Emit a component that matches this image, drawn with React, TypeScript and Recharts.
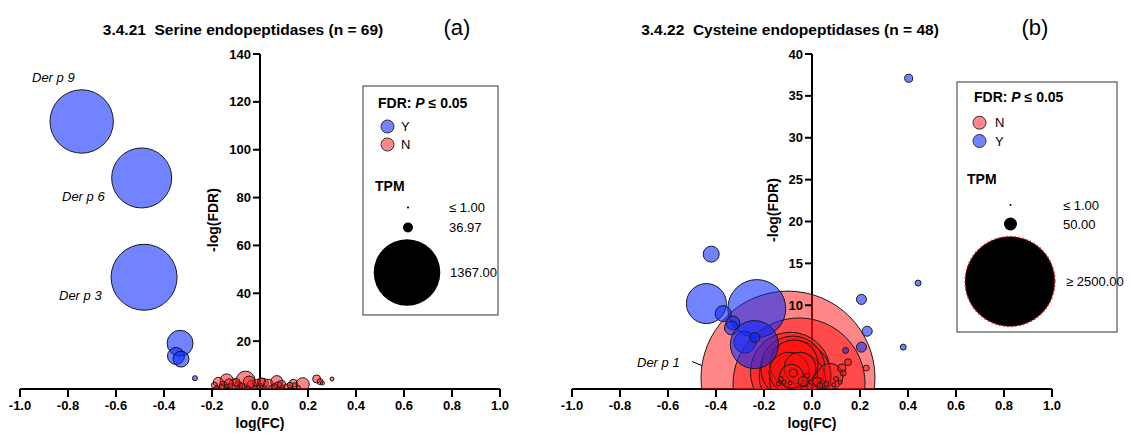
import { ReferenceLine, Scatter, ScatterChart, XAxis, YAxis, ZAxis } from "recharts";

const FONT = "'Liberation Sans', Arial, Helvetica, sans-serif";
const RED = "#ff1010";
const BLUE = "#0a2aff";

const fcTicks = [-1, -0.8, -0.6, -0.4, -0.2, 0, 0.2, 0.4, 0.6, 0.8, 1];
const serineTicks = [20, 40, 60, 80, 100, 120, 140];
const cysteineTicks = [10, 15, 20, 25, 30, 35, 40];

// 3.4.21 serine, FDR P <= 0.05 (Y)
const serineY = [
  { fc: -0.743, fdr: 111.8, tpm: 1261 },
  { fc: -0.493, fdr: 88.2, tpm: 1130 },
  { fc: -0.483, fdr: 46.7, tpm: 1367 },
  { fc: -0.333, fdr: 19.1, tpm: 212 },
  { fc: -0.35, fdr: 13.8, tpm: 91 },
  { fc: -0.329, fdr: 12.5, tpm: 80 },
  { fc: -0.271, fdr: 4.5, tpm: 8 },
];

// 3.4.21 serine, not significant (N)
const serineN = [
  { fc: -0.06, fdr: 3.5, tpm: 113 },
  { fc: -0.139, fdr: 3.6, tpm: 53 },
  { fc: -0.174, fdr: 2.8, tpm: 31 },
  { fc: -0.19, fdr: 1.6, tpm: 11 },
  { fc: -0.11, fdr: 1.9, tpm: 31 },
  { fc: -0.09, fdr: 1.6, tpm: 20 },
  { fc: -0.153, fdr: 1.6, tpm: 20 },
  { fc: -0.125, fdr: 1.0, tpm: 11 },
  { fc: -0.035, fdr: 1.6, tpm: 31 },
  { fc: -0.014, fdr: 2.4, tpm: 20 },
  { fc: 0.014, fdr: 2.4, tpm: 31 },
  { fc: 0.035, fdr: 2.0, tpm: 31 },
  { fc: 0.07, fdr: 3.1, tpm: 45 },
  { fc: 0.076, fdr: 1.4, tpm: 20 },
  { fc: 0.09, fdr: 2.0, tpm: 20 },
  { fc: 0.139, fdr: 2.4, tpm: 20 },
  { fc: 0.146, fdr: 1.4, tpm: 11 },
  { fc: 0.178, fdr: 2.0, tpm: 53 },
  { fc: 0.236, fdr: 4.2, tpm: 20 },
  { fc: 0.25, fdr: 3.1, tpm: 11 },
  { fc: 0.26, fdr: 2.5, tpm: 5 },
  { fc: 0.3, fdr: 4.2, tpm: 5 },
  { fc: -0.085, fdr: 0.8, tpm: 5 },
  { fc: -0.063, fdr: 0.9, tpm: 11 },
  { fc: 0.0, fdr: 1.2, tpm: 11 },
  { fc: -0.02, fdr: 0.6, tpm: 5 },
  { fc: 0.045, fdr: 0.7, tpm: 5 },
  { fc: 0.095, fdr: 0.8, tpm: 5 },
  { fc: 0.11, fdr: 1.0, tpm: 8 },
  { fc: -0.16, fdr: 0.8, tpm: 8 },
  { fc: -0.18, fdr: 0.6, tpm: 5 },
  { fc: -0.1, fdr: 2.8, tpm: 20 },
  { fc: -0.045, fdr: 2.9, tpm: 45 },
  { fc: 0.06, fdr: 1.0, tpm: 11 },
  { fc: -0.13, fdr: 2.4, tpm: 25 },
  { fc: 0.02, fdr: 0.5, tpm: 5 },
  { fc: -0.075, fdr: 1.2, tpm: 11 },
  { fc: 0.125, fdr: 1.6, tpm: 11 },
  { fc: -0.14, fdr: 1.2, tpm: 5 },
  { fc: 0.005, fdr: 3.0, tpm: 20 },
  { fc: 0.16, fdr: 0.7, tpm: 5 },
  { fc: -0.05, fdr: 0.5, tpm: 5 },
];

// 3.4.22 cysteine, not significant (N)
const cysteineN = [
  { fc: -0.1, fdr: 1.3, tpm: 9344 },
  { fc: -0.054, fdr: 0.6, tpm: 5378 },
  { fc: -0.09, fdr: 2.0, tpm: 1975 },
  { fc: -0.07, fdr: 1.5, tpm: 1600 },
  { fc: -0.08, fdr: 2.5, tpm: 1264 },
  { fc: -0.06, fdr: 1.0, tpm: 968 },
  { fc: -0.075, fdr: 3.0, tpm: 711 },
  { fc: -0.095, fdr: 2.0, tpm: 494 },
  { fc: -0.05, fdr: 2.5, tpm: 316 },
  { fc: -0.085, fdr: 1.5, tpm: 178 },
  { fc: -0.078, fdr: 1.9, tpm: 20 },
  { fc: -0.117, fdr: 0.8, tpm: 5 },
  { fc: -0.092, fdr: 0.7, tpm: 5 },
  { fc: -0.03, fdr: 0.7, tpm: 11 },
  { fc: 0.025, fdr: 0.8, tpm: 31 },
  { fc: 0.045, fdr: 0.5, tpm: 20 },
  { fc: -0.01, fdr: 0.3, tpm: 11 },
  { fc: 0.075, fdr: 1.5, tpm: 209 },
  { fc: 0.124, fdr: 2.5, tpm: 20 },
  { fc: 0.15, fdr: 3.2, tpm: 15 },
  { fc: 0.13, fdr: 1.9, tpm: 11 },
  { fc: 0.226, fdr: 2.5, tpm: 11 },
  { fc: 0.117, fdr: 0.8, tpm: 5 },
  { fc: -0.036, fdr: 0.9, tpm: 31 },
  { fc: 0.02, fdr: 0.9, tpm: 20 },
  { fc: 0.033, fdr: 0.4, tpm: 11 },
  { fc: -0.13, fdr: 1.2, tpm: 8 },
  { fc: -0.14, fdr: 0.6, tpm: 5 },
  { fc: 0.06, fdr: 0.6, tpm: 8 },
  { fc: 0.1, fdr: 1.2, tpm: 8 },
  { fc: 0.09, fdr: 0.5, tpm: 5 },
  { fc: -0.02, fdr: 1.6, tpm: 8 },
];

// 3.4.22 cysteine, FDR P <= 0.05 (Y)
const cysteineY = [
  { fc: -0.42, fdr: 16.1, tpm: 79 },
  { fc: -0.44, fdr: 10.2, tpm: 494 },
  { fc: -0.23, fdr: 9.6, tpm: 1038 },
  { fc: -0.37, fdr: 9.0, tpm: 79 },
  { fc: -0.33, fdr: 7.9, tpm: 60 },
  { fc: -0.336, fdr: 7.3, tpm: 60 },
  { fc: -0.28, fdr: 5.6, tpm: 149 },
  { fc: -0.24, fdr: 5.3, tpm: 711 },
  { fc: -0.238, fdr: 6.15, tpm: 31 },
  { fc: 0.403, fdr: 37.1, tpm: 20 },
  { fc: 0.442, fdr: 12.65, tpm: 11 },
  { fc: 0.206, fdr: 10.7, tpm: 31 },
  { fc: 0.23, fdr: 6.9, tpm: 31 },
  { fc: 0.206, fdr: 5.0, tpm: 31 },
  { fc: 0.38, fdr: 5.0, tpm: 11 },
  { fc: 0.14, fdr: 4.6, tpm: 11 },
];

const bubble = (fill: string, opacity: number) => (p: any) => {
  const r = p.size != null ? Math.sqrt(p.size / Math.PI) : p.width / 2;
  return <circle cx={p.cx} cy={p.cy} r={r} fill={fill} fillOpacity={opacity} stroke="#1a1a1a" strokeWidth={1} />;
};

// the y axis sits on log(FC) = 0, i.e. the middle of the plot
const AXIS_X = 260;

const YTick = (p: any) => (
  <g>
    <line x1={AXIS_X - 7} x2={AXIS_X} y1={p.y} y2={p.y} stroke="#000" strokeWidth={2} />
    <text x={AXIS_X - 9} y={p.y} textAnchor="end" dominantBaseline="central" fontSize={13} fontWeight={700} fontFamily={FONT} fill="#000">
      {p.payload.value}
    </text>
  </g>
);

function Panel({ left, yMax, yTicks, zDomain, zRange, sig, nonsig }: any) {
  return (
    <div style={{ position: "absolute", left, top: 0 }}>
      <ScatterChart width={560} height={439} margin={{ top: 54, right: 60, bottom: 20, left: 19 }}>
        <XAxis
          type="number"
          dataKey="fc"
          domain={[-1, 1]}
          ticks={fcTicks}
          interval={0}
          allowDataOverflow
          tickFormatter={(v: number) => v.toFixed(1)}
          height={30}
          tickSize={8}
          axisLine={{ stroke: "#000", strokeWidth: 2 }}
          tickLine={{ stroke: "#000", strokeWidth: 2 }}
          tick={{ fill: "#000", fontSize: 13, fontWeight: 700, fontFamily: FONT, dy: 2 }}
        />
        <YAxis
          type="number"
          dataKey="fdr"
          domain={[0, yMax]}
          ticks={yTicks}
          interval={0}
          allowDataOverflow
          width={1}
          axisLine={false}
          tickLine={false}
          tick={(p: any) => <YTick {...p} />}
        />
        <ZAxis type="number" dataKey="tpm" domain={zDomain} range={zRange} />
        <ReferenceLine x={0} stroke="#000" strokeWidth={2} />
        <Scatter data={nonsig} shape={bubble(RED, 0.5)} isAnimationActive={false} />
        <Scatter data={sig} shape={bubble(BLUE, 0.58)} isAnimationActive={false} />
      </ScatterChart>
    </div>
  );
}

const txt = { fontFamily: FONT, fill: "#000" } as const;

export default function App() {
  return (
    <div style={{ position: "absolute", left: 0, top: 0, width: 1131, height: 439, background: "#fff", fontFamily: FONT }}>
      <Panel left={0} yMax={140} yTicks={serineTicks} zDomain={[0, 1367]} zRange={[0, Math.PI * 33 * 33]} sig={serineY} nonsig={serineN} />
      <Panel left={552} yMax={40} yTicks={cysteineTicks} zDomain={[0, 10000]} zRange={[0, Math.PI * 90 * 90]} sig={cysteineY} nonsig={cysteineN} />
      <svg width={1131} height={439} style={{ position: "absolute", left: 0, top: 0, pointerEvents: "none" }}>
        {/* titles */}
        <text x={243} y={35} textAnchor="middle" fontSize={15.5} fontWeight={700} style={{ whiteSpace: "pre" }} {...txt}>
          3.4.21  Serine endopeptidases (n = 69)
        </text>
        <text x={457} y={35} textAnchor="middle" fontSize={22} {...txt}>(a)</text>
        <text x={790} y={35} textAnchor="middle" fontSize={15.5} fontWeight={700} style={{ whiteSpace: "pre" }} {...txt}>
          3.4.22  Cysteine endopeptidases (n = 48)
        </text>
        <text x={1035} y={35} textAnchor="middle" fontSize={22} {...txt}>(b)</text>

        {/* axis titles */}
        <text x={260} y={428} textAnchor="middle" fontSize={14} fontWeight={700} {...txt}>log(FC)</text>
        <text x={812} y={428} textAnchor="middle" fontSize={14} fontWeight={700} {...txt}>log(FC)</text>
        <text transform="translate(213,220) rotate(-90)" textAnchor="middle" dominantBaseline="central" fontSize={14} fontWeight={700} {...txt}>-log(FDR)</text>
        <text transform="translate(773,210) rotate(-90)" textAnchor="middle" dominantBaseline="central" fontSize={14} fontWeight={700} {...txt}>-log(FDR)</text>

        {/* annotations */}
        <text x={32} y={82} fontSize={13} fontStyle="italic" {...txt}>Der p 9</text>
        <text x={62} y={201} fontSize={13} fontStyle="italic" {...txt}>Der p 6</text>
        <text x={59} y={300} fontSize={13} fontStyle="italic" {...txt}>Der p 3</text>
        <text x={637} y={367} fontSize={13} fontStyle="italic" {...txt}>Der p 1</text>
        <line x1={692} y1={361.5} x2={702} y2={365.5} stroke="#000" strokeWidth={1} />

        {/* legend (a) */}
        <rect x={363} y={86} width={135} height={229} fill="#fff" stroke="#555" strokeWidth={1.2} />
        <text x={378} y={108} fontSize={14} fontWeight={700} {...txt}>
          FDR: <tspan fontStyle="italic">P</tspan> ≤ 0.05
        </text>
        <circle cx={387.5} cy={126.5} r={6.5} fill={BLUE} fillOpacity={0.58} stroke="#333" />
        <text x={401} y={131} fontSize={13} {...txt}>Y</text>
        <circle cx={387.5} cy={144.5} r={6.5} fill={RED} fillOpacity={0.5} stroke="#333" />
        <text x={401} y={149} fontSize={13} {...txt}>N</text>
        <text x={375} y={191} fontSize={14} fontWeight={700} {...txt}>TPM</text>
        <circle cx={408} cy={207.5} r={1.1} fill="#000" />
        <text x={449} y={212} fontSize={13} {...txt}>≤ 1.00</text>
        <circle cx={408} cy={227.5} r={5} fill="#000" />
        <text x={449} y={232} fontSize={13} {...txt}>36.97</text>
        <circle cx={407} cy={272.5} r={33.3} fill="#000" />
        <text x={450} y={277} fontSize={13} {...txt}>1367.00</text>

        {/* legend (b) */}
        <rect x={957} y={82} width={160} height={250} fill="#fff" stroke="#555" strokeWidth={1.2} />
        <text x={974} y={102} fontSize={14} fontWeight={700} {...txt}>
          FDR: <tspan fontStyle="italic">P</tspan> ≤ 0.05
        </text>
        <circle cx={979.5} cy={122.7} r={6.5} fill={RED} fillOpacity={0.5} stroke="#333" />
        <text x={995} y={127.2} fontSize={13} {...txt}>N</text>
        <circle cx={979.5} cy={141} r={6.5} fill={BLUE} fillOpacity={0.58} stroke="#333" />
        <text x={995} y={145.5} fontSize={13} {...txt}>Y</text>
        <text x={967} y={184} fontSize={14} fontWeight={700} {...txt}>TPM</text>
        <circle cx={1010.5} cy={205} r={1} fill="#000" />
        <text x={1063} y={209.5} fontSize={13} {...txt}>≤ 1.00</text>
        <circle cx={1010.5} cy={224} r={6.5} fill="#000" />
        <text x={1063} y={228.5} fontSize={13} {...txt}>50.00</text>
        <circle cx={1010} cy={281.5} r={45} fill="#000" stroke="#ff2020" strokeWidth={1.5} strokeDasharray="1.5 2.5" />
        <text x={1066} y={286} fontSize={13} {...txt}>≥ 2500.00</text>
      </svg>
    </div>
  );
}
